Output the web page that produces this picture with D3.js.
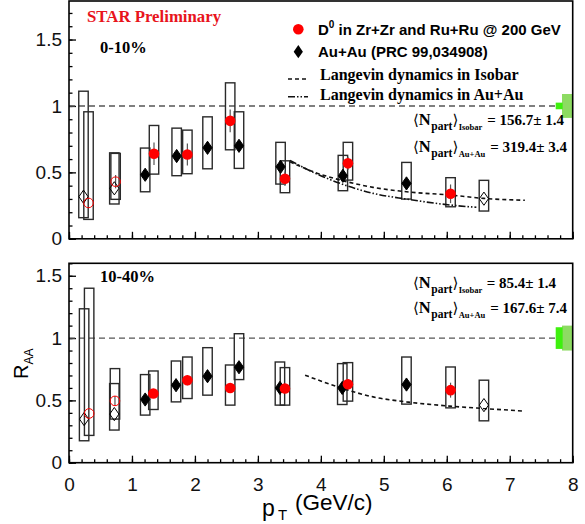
<!DOCTYPE html>
<html><head><meta charset="utf-8">
<script src="https://cdn.jsdelivr.net/npm/d3@7"></script>
<style>body{margin:0;background:#fff}</style>
</head><body><svg id="c" width="585" height="524"></svg>
<script>
// ---------- data: 0-10% ----------
const isoPt0   = [0.31, 0.74, 1.35, 1.88, 2.56, 3.43, 4.43, 6.06];
const isoR0    = [0.27, 0.43, 0.64, 0.635, 0.888, 0.452, 0.568, 0.339];
const isoStat0 = [0.0, 0.05, 0.085, 0.083, 0.086, 0.055, 0.05, 0.07];
const isoLo0   = [0.146, 0.297, 0.487, 0.49, 0.67, 0.347, 0.442, 0.241];
const isoHi0   = [0.956, 0.643, 0.853, 0.818, 1.174, 0.587, 0.726, 0.46];
const isoOpen0 = [true, true, false, false, false, false, false, false];

const auPt0   = [0.23, 0.72, 1.21, 1.71, 2.2, 2.7, 3.36, 4.35, 5.36, 6.59];
const auR0    = [0.317, 0.38, 0.482, 0.623, 0.685, 0.70, 0.542, 0.474, 0.417, 0.302];
const auLo0   = [0.159, 0.262, 0.354, 0.475, 0.527, 0.53, 0.412, 0.362, 0.299, 0.209];
const auHi0   = [1.111, 0.647, 0.683, 0.833, 0.918, 0.956, 0.726, 0.628, 0.575, 0.44];
const auOpen0 = [true, true, false, false, false, false, false, false, false, true];

const langIsoPt0 = [3.51, 3.88, 4.41, 4.83, 5.36, 6.06, 6.59, 7.24];
const langIsoR0  = [0.58, 0.505, 0.43, 0.387, 0.354, 0.329, 0.304, 0.29];
const langAuPt0  = [3.51, 3.88, 4.41, 4.83, 5.36, 6.06, 6.47];
const langAuR0   = [0.59, 0.50, 0.40, 0.342, 0.299, 0.254, 0.237];

// ---------- data: 10-40% ----------
const isoPt1   = [0.32, 0.73, 1.34, 1.88, 2.56, 3.43, 4.43, 6.06];
const isoR1    = [0.395, 0.496, 0.555, 0.662, 0.60, 0.595, 0.63, 0.582];
const isoStat1 = [0.0, 0.04, 0.03, 0.04, 0.03, 0.03, 0.04, 0.06];
const isoLo1   = [0.219, 0.35, 0.427, 0.515, 0.462, 0.462, 0.494, 0.44];
const isoHi1   = [1.40, 0.755, 0.736, 0.848, 0.784, 0.763, 0.803, 0.768];
const isoOpen1 = [true, true, false, false, false, false, false, false];

const auPt1   = [0.24, 0.72, 1.21, 1.70, 2.2, 2.7, 3.35, 4.34, 5.36, 6.59];
const auR1    = [0.35, 0.39, 0.507, 0.622, 0.694, 0.766, 0.60, 0.60, 0.627, 0.462];
const auLo1   = [0.176, 0.262, 0.382, 0.488, 0.542, 0.667, 0.462, 0.467, 0.47, 0.336];
const auHi1   = [1.235, 0.635, 0.707, 0.816, 0.923, 1.035, 0.808, 0.795, 0.848, 0.662];
const auOpen1 = [true, true, false, false, false, false, false, false, false, true];

const langIsoPt1 = [3.75, 4.35, 4.83, 5.36, 6.05, 6.58, 7.24];
const langIsoR1  = [0.702, 0.595, 0.528, 0.488, 0.454, 0.435, 0.414];

// normalization uncertainties at R=1 (bright, light)
const normTop = [0.025, 0.09];
const normBot = [0.087, 0.10];

const xTicks = [0,1,2,3,4,5,6,7,8];
const yTicks = [0, 0.5, 1, 1.5];
const boxHalf = 0.075;

// ---------- drawing ----------
const svg = d3.select("#c");
const SANS = "'Liberation Sans', Arial, sans-serif";
const SERIF = "'Liberation Serif', 'Times New Roman', serif";
const x = d3.scaleLinear().domain([0, 8]).range([69, 572.7]);
const yTop = d3.scaleLinear().domain([0, 1.79]).range([238.8, 1]);
const yBot = d3.scaleLinear().domain([0, 1.6]).range([462.7, 263.3]);

function diamondPath(cx, cy, hw, hh){
  return `M${cx},${cy-hh}L${cx+hw},${cy}L${cx},${cy+hh}L${cx-hw},${cy}Z`;
}

function panel(y, ymax, iso, au, curves, norm, showXLabels){
  const g = svg.append("g");
  const xMaj = d3.axisBottom(x).tickValues(xTicks).tickSize(-7).tickPadding(15)
    .tickFormat(showXLabels ? d3.format("d") : () => "");
  const xMin = d3.axisBottom(x).tickValues(d3.range(0, 8.001, 0.2)).tickSize(-3.5).tickFormat(() => "");
  const yMaj = d3.axisLeft(y).tickValues(yTicks).tickSize(-7).tickPadding(7).tickFormat(d => String(d));
  const yMin = d3.axisLeft(y).tickValues(d3.range(0, ymax + 1e-6, 0.1)).tickSize(-3.5).tickFormat(() => "");
  [xMaj, xMin].forEach(a => {
    const ga = g.append("g").attr("transform", `translate(0,${y.range()[0]})`).call(a);
    ga.select(".domain").remove();
  });
  [yMaj, yMin].forEach(a => {
    const ga = g.append("g").attr("transform", `translate(${x.range()[0]},0)`).call(a);
    ga.select(".domain").remove();
  });
  g.selectAll(".tick line").attr("stroke", "#000").attr("stroke-width", 1.3);
  g.selectAll(".tick text").attr("font-family", SANS).attr("font-size", 19).attr("fill", "#111");

  g.append("line").attr("x1", x(0)).attr("x2", x(8)).attr("y1", y(1)).attr("y2", y(1))
    .attr("stroke", "#555").attr("stroke-width", 1.4).attr("stroke-dasharray", "6,4");

  g.append("rect").attr("x", x(7.83)).attr("width", x(8) - x(7.83) - 0.5)
    .attr("y", y(1 + norm[1])).attr("height", y(1 - norm[1]) - y(1 + norm[1])).attr("fill", "#8ddb62");
  g.append("rect").attr("x", x(7.73)).attr("width", x(7.84) - x(7.73))
    .attr("y", y(1 + norm[0])).attr("height", y(1 - norm[0]) - y(1 + norm[0])).attr("fill", "#3ef00e");

  const boxes = [];
  au.pt.forEach((p, i) => boxes.push({p, lo: au.lo[i], hi: au.hi[i]}));
  iso.pt.forEach((p, i) => boxes.push({p, lo: iso.lo[i], hi: iso.hi[i]}));
  g.selectAll(null).data(boxes).enter().append("rect")
    .attr("x", d => x(d.p - boxHalf)).attr("width", d => x(d.p + boxHalf) - x(d.p - boxHalf))
    .attr("y", d => y(d.hi)).attr("height", d => y(d.lo) - y(d.hi))
    .attr("fill", "none").attr("stroke", "#2a2a2a").attr("stroke-width", 1.4);

  iso.pt.forEach((p, i) => {
    if (iso.stat[i] > 0) g.append("line").attr("x1", x(p)).attr("x2", x(p))
      .attr("y1", y(iso.r[i] + iso.stat[i])).attr("y2", y(iso.r[i] - iso.stat[i]))
      .attr("stroke", "#555").attr("stroke-width", 1.2);
  });

  curves.forEach(c => {
    const line = d3.line().x((d, i) => x(c.pt[i])).y((d, i) => y(c.r[i])).curve(d3.curveMonotoneX);
    g.append("path").attr("d", line(c.pt)).attr("fill", "none").attr("stroke", "#111")
      .attr("stroke-width", 1.6).attr("stroke-dasharray", c.dash);
  });

  au.pt.forEach((p, i) => {
    g.append("path").attr("d", diamondPath(x(p), y(au.r[i]), 4.6, 6.6))
      .attr("fill", au.open[i] ? "none" : "#000").attr("stroke", "#000").attr("stroke-width", 1);
  });
  iso.pt.forEach((p, i) => {
    g.append("circle").attr("cx", x(p)).attr("cy", y(iso.r[i])).attr("r", iso.open[i] ? 4.8 : 5.3)
      .attr("fill", iso.open[i] ? "none" : "#f00").attr("stroke", "#f00").attr("stroke-width", iso.open[i] ? 1 : 0);
  });

  g.append("rect").attr("x", x(0)).attr("y", y(ymax)).attr("width", x(8) - x(0))
    .attr("height", y(0) - y(ymax)).attr("fill", "none").attr("stroke", "#000").attr("stroke-width", 1.6);
  return g;
}

const dashIso = "4,3";
const dashAu = "7,2,1.5,2,1.5,2";

panel(yTop, 1.79,
  {pt: isoPt0, r: isoR0, stat: isoStat0, lo: isoLo0, hi: isoHi0, open: isoOpen0},
  {pt: auPt0, r: auR0, lo: auLo0, hi: auHi0, open: auOpen0},
  [{pt: langIsoPt0, r: langIsoR0, dash: dashIso}, {pt: langAuPt0, r: langAuR0, dash: dashAu}],
  normTop, false);

panel(yBot, 1.6,
  {pt: isoPt1, r: isoR1, stat: isoStat1, lo: isoLo1, hi: isoHi1, open: isoOpen1},
  {pt: auPt1, r: auR1, lo: auLo1, hi: auHi1, open: auOpen1},
  [{pt: langIsoPt1, r: langIsoR1, dash: dashIso}],
  normBot, true);

// ---------- texts ----------
svg.append("text").attr("x", 87).attr("y", 21.7).attr("font-family", SERIF).attr("font-weight", "bold")
  .attr("font-size", 16.8).attr("fill", "#e8141c").text("STAR Preliminary");
svg.append("text").attr("x", 100).attr("y", 52.7).attr("font-family", SERIF).attr("font-weight", "bold")
  .attr("font-size", 16.5).text("0-10%");
svg.append("text").attr("x", 100).attr("y", 281.5).attr("font-family", SERIF).attr("font-weight", "bold")
  .attr("font-size", 16.5).text("10-40%");

svg.append("circle").attr("cx", 298.3).attr("cy", 29.3).attr("r", 5.3).attr("fill", "#f00");
const t1 = svg.append("text").attr("x", 318).attr("y", 35).attr("font-family", SANS).attr("font-weight", "bold").attr("font-size", 15);
t1.append("tspan").text("D");
t1.append("tspan").attr("font-size", 10).attr("dy", -7).text("0");
t1.append("tspan").attr("dy", 7).text(" in Zr+Zr and Ru+Ru @ 200 GeV");
svg.append("path").attr("d", diamondPath(298.3, 51.7, 4.6, 6.6)).attr("fill", "#000");
svg.append("text").attr("x", 318).attr("y", 57).attr("font-family", SANS).attr("font-weight", "bold")
  .attr("font-size", 15).text("Au+Au (PRC 99,034908)");
svg.append("line").attr("x1", 288).attr("x2", 308).attr("y1", 79).attr("y2", 79)
  .attr("stroke", "#111").attr("stroke-width", 1.6).attr("stroke-dasharray", dashIso);
svg.append("text").attr("x", 320).attr("y", 80).attr("font-family", SERIF).attr("font-weight", "bold")
  .attr("font-size", 16).text("Langevin dynamics in Isobar");
svg.append("line").attr("x1", 288).attr("x2", 308).attr("y1", 96.7).attr("y2", 96.7)
  .attr("stroke", "#111").attr("stroke-width", 1.6).attr("stroke-dasharray", dashAu);
svg.append("text").attr("x", 320).attr("y", 100).attr("font-family", SERIF).attr("font-weight", "bold")
  .attr("font-size", 16).text("Langevin dynamics in Au+Au");

// Npart annotations: pieces laid out one after another
function npart(yb, sub, val, xEnd){
  let cx = 413;
  const put = (txt, dy, size, fam, weight, gap) => {
    const t = svg.append("text").attr("x", cx).attr("y", yb + dy).attr("font-family", fam)
      .attr("font-weight", weight).attr("font-size", size).text(txt);
    cx += t.node().getComputedTextLength() + gap;
    return t;
  };
  put("\u27E8", 0, 15, "'DejaVu Serif', serif", "normal", 0);
  put("N", 0, 16.5, SERIF, "bold", 0.5);
  put("part", 5, 11.5, SERIF, "bold", 0);
  put("\u27E9", 0, 15, "'DejaVu Serif', serif", "normal", 0.5);
  put(sub, 5, 8.5, SERIF, "bold", 2);
  svg.append("text").attr("x", xEnd).attr("y", yb).attr("text-anchor", "end").attr("font-family", SERIF)
    .attr("font-weight", "bold").attr("font-size", 15).text(val);
}
npart(124.5, "Isobar", "= 156.7\u00B1 1.4", 564);
npart(151.5, "Au+Au", "= 319.4\u00B1 3.4", 567);
npart(288, "Isobar", "= 85.4\u00B1 1.4", 556);
npart(313, "Au+Au", "= 167.6\u00B1 7.4", 567);

// axis titles
const ry = svg.append("text").attr("transform", "translate(28,379) rotate(-90)")
  .attr("font-family", SANS).attr("font-size", 20);
ry.append("tspan").text("R");
ry.append("tspan").attr("font-size", 12).attr("dy", 5).text("AA");

svg.append("text").attr("x", 262).attr("y", 516).attr("font-family", SANS).attr("font-size", 23).text("p");
svg.append("text").attr("x", 278).attr("y", 520).attr("font-family", SANS).attr("font-size", 15).text("T");
svg.append("text").attr("x", 295).attr("y", 509.5).attr("font-family", SANS).attr("font-size", 22.5).text("(GeV/c)");
</script>
</body></html>
